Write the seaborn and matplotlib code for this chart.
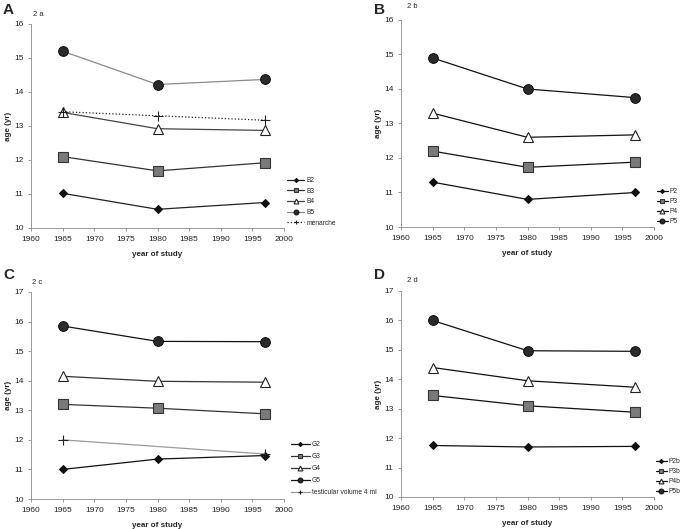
import matplotlib
matplotlib.use("Agg")
import matplotlib.pyplot as plt
import seaborn as sns

# Jahre der Studien
years = [1965, 1980, 1997]

# 2a - Brustentwicklung / Menarche
b2 = [11.02, 10.55, 10.75]
b3 = [12.10, 11.68, 11.92]
b4 = [13.40, 12.92, 12.87]
b5 = [15.20, 14.22, 14.37]
menarche = [13.42, 13.30, 13.17]

# 2b - Pubes Mädchen
p2 = [11.30, 10.80, 11.00]
p3 = [12.20, 11.73, 11.88]
p4 = [13.30, 12.60, 12.67]
p5 = [14.90, 14.00, 13.75]

# 2c - Genitalentwicklung Jungen
g2 = [11.00, 11.35, 11.47]
g3 = [13.20, 13.07, 12.88]
g4 = [14.15, 13.98, 13.95]
g5 = [15.85, 15.33, 15.32]
tv_years = [1965, 1997]
testis_vol = [12.00, 11.52]

# 2d - Pubes Jungen
p2b = [11.75, 11.70, 11.72]
p3b = [13.45, 13.10, 12.88]
p4b = [14.40, 13.95, 13.73]
p5b = [16.00, 14.97, 14.95]

sns.set_style("ticks")
plt.rcParams["font.family"] = ["Liberation Sans", "DejaVu Sans"]

W, H = 685, 529
fig = plt.figure(figsize=(6.85, 5.29), dpi=100)


def box(l, t, r, b):
    return [l / W, 1 - b / H, (r - l) / W, (b - t) / H]


# Markerstile
mk = {
    "dia": dict(marker="D", markersize=4.2, markerfacecolor="#111111", markeredgecolor="#111111"),
    "sq": dict(marker="s", markersize=6.5, markerfacecolor="#7a7a7a", markeredgecolor="#333333", markeredgewidth=0.8),
    "tri": dict(marker="^", markersize=7, markerfacecolor="white", markeredgecolor="#222222", markeredgewidth=0.8),
    "circ": dict(marker="o", markersize=7, markerfacecolor="#2a2a2a", markeredgecolor="#111111"),
    "plus": dict(marker="+", markersize=7, markeredgecolor="#222222", markeredgewidth=0.8),
}


def series(ax, x, y, label, m, color="#111111", lw=0.9, ls="-"):
    sns.lineplot(x=x, y=y, ax=ax, label=label, color=color, linewidth=lw,
                 linestyle=ls, legend=False, **mk[m])


def style_axes(ax, ymin, ymax):
    ax.set_xlim(1960, 2000)
    ax.set_ylim(ymin, ymax)
    ax.set_xticks(range(1960, 2001, 5))
    ax.set_yticks(range(ymin, ymax + 1))
    sns.despine(ax=ax)
    for s in ["left", "bottom"]:
        ax.spines[s].set_linewidth(0.6)
        ax.spines[s].set_color("#8a8a8a")
    ax.tick_params(labelsize=6, length=2.5, width=0.6, pad=3,
                   color="#8a8a8a", labelcolor="#222222")
    ax.set_xlabel("year of study", fontsize=5.8, fontweight="bold", labelpad=6)
    ax.set_ylabel("age (yr)", fontsize=5.8, fontweight="bold", labelpad=1)


def legend(ax, x, y, spacing, hl):
    ax.legend(loc="upper left", bbox_to_anchor=(x / W, 1 - y / H),
              bbox_transform=fig.transFigure, frameon=False, fontsize=4.8,
              labelspacing=spacing, handlelength=hl, handletextpad=0.3,
              borderpad=0, borderaxespad=0, markerscale=0.5)


# Panel A
axA = fig.add_axes(box(31, 24, 284, 228))
series(axA, years, b2, "B2", "dia", color="#222222")
series(axA, years, b3, "B3", "sq", color="#333333")
series(axA, years, b4, "B4", "tri", color="#444444")
series(axA, years, b5, "B5", "circ", color="#8a8a8a")
series(axA, years, menarche, "menarche", "plus", color="#222222", ls=":")
style_axes(axA, 10, 16)
legend(axA, 287, 177, 0.55, 2.6)

# Panel B
axB = fig.add_axes(box(401, 20, 654, 227))
series(axB, years, p2, "P2", "dia")
series(axB, years, p3, "P3", "sq")
series(axB, years, p4, "P4", "tri")
series(axB, years, p5, "P5", "circ")
style_axes(axB, 10, 16)
legend(axB, 657, 188, 0.45, 1.6)

# Panel C
axC = fig.add_axes(box(31, 292, 284, 499))
series(axC, years, g2, "G2", "dia")
series(axC, years, g3, "G3", "sq", color="#333333")
series(axC, years, g4, "G4", "tri", color="#333333")
series(axC, years, g5, "G5", "circ")
series(axC, tv_years, testis_vol, "testicular volume 4 ml", "plus", color="#9a9a9a")
style_axes(axC, 10, 17)
legend(axC, 291, 441, 0.75, 2.8)

# Panel D
axD = fig.add_axes(box(401, 291, 654, 497))
series(axD, years, p2b, "P2b", "dia")
series(axD, years, p3b, "P3b", "sq")
series(axD, years, p4b, "P4b", "tri")
series(axD, years, p5b, "P5b", "circ")
style_axes(axD, 10, 17)
legend(axD, 656, 458, 0.45, 1.6)

# Panel-Buchstaben und Kennungen
for lx, ly, letter in [(3, 3, "A"), (374, 3, "B"), (3, 268, "C"), (374, 268, "D")]:
    fig.text(lx / W, 1 - ly / H, letter, fontsize=11, fontweight="bold", va="top", ha="left")
for lx, ly, tag in [(33, 14, "2 a"), (407, 7, "2 b"), (32, 283, "2 c"), (407, 280, "2 d")]:
    fig.text(lx / W, 1 - ly / H, tag, fontsize=5.5, va="center", ha="left")

fig.savefig("out.png", dpi=100)
